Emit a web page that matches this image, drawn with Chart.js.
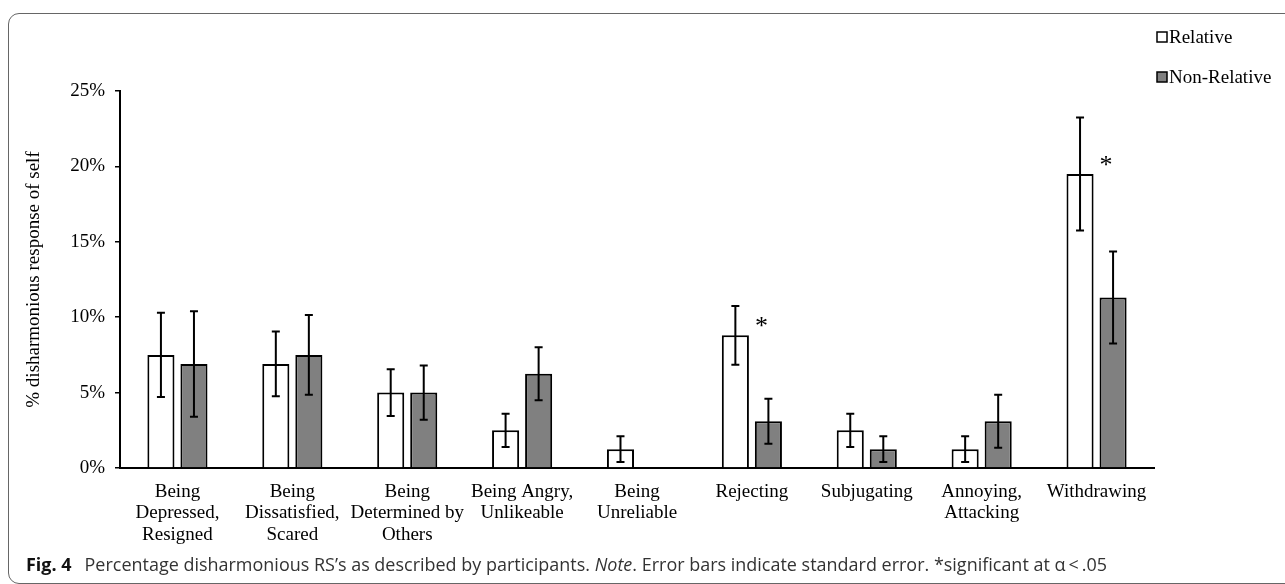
<!DOCTYPE html>
<html>
<head>
<meta charset="utf-8">
<script src="https://cdn.jsdelivr.net/npm/chart.js@4.4.1/dist/chart.umd.min.js"></script>
<style>
  html, body { margin: 0; padding: 0; background: #fff; width: 1285px; height: 584px; overflow: hidden; }
  #frame { position: absolute; left: 8px; top: 13px; width: 1310px; height: 571px; box-sizing: border-box;
           border: 1.5px solid #666; border-radius: 11px; }
  #c { position: absolute; left: 0; top: 0; }
</style>
</head>
<body>
<div id="frame"></div>
<canvas id="c" width="1285" height="584"></canvas>
<script>
// Response categories (multi-line tick labels)
const categories = [
  ["Being", "Depressed,", "Resigned"],
  ["Being", "Dissatisfied,", "Scared"],
  ["Being", "Determined by", "Others"],
  ["Being Angry,", "Unlikeable"],
  ["Being", "Unreliable"],
  "Rejecting",
  "Subjugating",
  ["Annoying,", "Attacking"],
  "Withdrawing"
];

// Percentages per group
const relative    = [7.5, 6.9, 5.0, 2.5, 1.25, 8.8, 2.5, 1.25, 19.5];
const nonRelative = [6.9, 7.5, 5.0, 6.25, 0, 3.1, 1.25, 3.1, 11.3];

// Standard errors
const relativeSE    = [2.8, 2.15, 1.55, 1.1, 0.85, 1.95, 1.1, 0.85, 3.75];
const nonRelativeSE = [3.5, 2.65, 1.8, 1.75, 0, 1.5, 0.85, 1.75, 3.05];

// Significant group differences (α < .05)
const significant = [false, false, false, false, false, true, false, false, true];

// Y axis ticks
const yTicks = [0, 5, 10, 15, 20, 25];

const SERIF = "'Liberation Serif', 'Times New Roman', serif";

const errorBars = {
  id: 'errorBars',
  afterDatasetsDraw(chart) {
    const ctx = chart.ctx, y = chart.scales.y;
    chart.data.datasets.forEach((ds, di) => {
      const meta = chart.getDatasetMeta(di);
      meta.data.forEach((bar, i) => {
        const se = ds.se[i];
        if (!se) return;
        const v = ds.data[i];
        const top = y.getPixelForValue(v + se);
        const bot = y.getPixelForValue(v - se);
        ctx.save();
        ctx.strokeStyle = '#000';
        ctx.lineWidth = 2;
        ctx.beginPath();
        ctx.moveTo(bar.x, top); ctx.lineTo(bar.x, bot);
        ctx.moveTo(bar.x - 4, top); ctx.lineTo(bar.x + 4, top);
        ctx.moveTo(bar.x - 4, bot); ctx.lineTo(bar.x + 4, bot);
        ctx.stroke();
        ctx.restore();
      });
    });
  }
};

const stars = {
  id: 'stars',
  afterDatasetsDraw(chart) {
    const ctx = chart.ctx;
    const relMeta = chart.getDatasetMeta(0), nonMeta = chart.getDatasetMeta(1);
    ctx.save();
    ctx.fillStyle = '#000';
    ctx.font = '26px ' + SERIF;
    ctx.textAlign = 'center';
    ctx.textBaseline = 'alphabetic';
    significant.forEach((s, i) => {
      if (!s) return;
      const x = nonMeta.data[i].x - 7;
      const yTop = relMeta.data[i].y;
      ctx.fillText('*', x, yTop - 1);
    });
    ctx.restore();
  }
};

const sideLegend = {
  id: 'sideLegend',
  afterDraw(chart) {
    const ctx = chart.ctx;
    const rows = [37, 77];
    ctx.save();
    chart.data.datasets.forEach((ds, i) => {
      const yc = rows[i];
      ctx.fillStyle = ds.backgroundColor;
      ctx.fillRect(1157, yc - 5, 10, 10);
      ctx.strokeStyle = '#000';
      ctx.lineWidth = 1.5;
      ctx.strokeRect(1157, yc - 5, 10, 10);
      ctx.fillStyle = '#000';
      ctx.font = '19px ' + SERIF;
      ctx.textAlign = 'left';
      ctx.textBaseline = 'middle';
      ctx.fillText(ds.label, 1169, yc + 1);
    });
    ctx.restore();
  }
};

const caption = {
  id: 'caption',
  afterDraw(chart) {
    const ctx = chart.ctx;
    const FAM = "'Open Sans', 'Noto Sans', sans-serif";
    const parts = [
      { t: 'Fig. 4', f: 'bold 18px ' + FAM, gap: 13, c: '#111' },
      { t: 'Percentage disharmonious RS\u2019s as described by participants. ', f: '18px ' + FAM, gap: 0, c: '#333' },
      { t: 'Note', f: 'italic 18px ' + FAM, gap: 0, c: '#333' },
      { t: '. Error bars indicate standard error. *significant at \u03b1\u2009<\u2009.05', f: '18px ' + FAM, gap: 0, c: '#333' }
    ];
    ctx.save();
    let textW = 0, gaps = 0;
    parts.forEach(p => { ctx.font = p.f; textW += ctx.measureText(p.t).width; gaps += p.gap; });
    const sx = (1081 - gaps) / textW;
    let x = 26;
    ctx.textBaseline = 'alphabetic';
    parts.forEach(p => {
      ctx.font = p.f;
      ctx.fillStyle = p.c;
      const w = ctx.measureText(p.t).width;
      ctx.save();
      ctx.translate(x, 570.5);
      ctx.scale(sx, 1);
      ctx.fillText(p.t, 0, 0);
      ctx.restore();
      x += w * sx + p.gap;
    });
    ctx.restore();
  }
};

new Chart(document.getElementById('c'), {
  type: 'bar',
  data: {
    labels: categories,
    datasets: [
      { label: 'Relative', data: relative, se: relativeSE,
        backgroundColor: '#ffffff', borderColor: '#000', borderWidth: 2 },
      { label: 'Non-Relative', data: nonRelative, se: nonRelativeSE,
        backgroundColor: '#808080', borderColor: '#000', borderWidth: 2 }
    ]
  },
  options: {
    responsive: false,
    animation: false,
    devicePixelRatio: 1,
    categoryPercentage: 0.575,
    barPercentage: 0.82,
    layout: { padding: { left: 0, top: 91, right: 131, bottom: 0 } },
    plugins: { legend: { display: false }, tooltip: { enabled: false } },
    scales: {
      x: {
        afterFit: s => { s.height = 116; },
        grid: { display: false, drawTicks: false },
        border: { display: true, color: '#000', width: 2 },
        ticks: { color: '#000', autoSkip: false, maxRotation: 0, minRotation: 0, padding: 13,
                 font: { family: SERIF, size: 19, lineHeight: 21.5 / 19 } }
      },
      y: {
        min: 0, max: 25,
        afterFit: s => { s.width = 120; },
        afterBuildTicks: s => { s.ticks = yTicks.map(v => ({ value: v })); },
        grid: { display: true, drawOnChartArea: false, drawTicks: true, tickLength: 5, color: '#000', lineWidth: 1.5 },
        border: { display: true, color: '#000', width: 2 },
        ticks: { color: '#000', padding: 10, callback: v => v + '%',
                 font: { family: SERIF, size: 19 } },
        title: { display: true, text: '% disharmonious response of self', color: '#000',
                 padding: { top: 23, bottom: 0 }, font: { family: SERIF, size: 19 } }
      }
    }
  },
  plugins: [errorBars, stars, sideLegend, caption]
});
</script>
</body>
</html>
